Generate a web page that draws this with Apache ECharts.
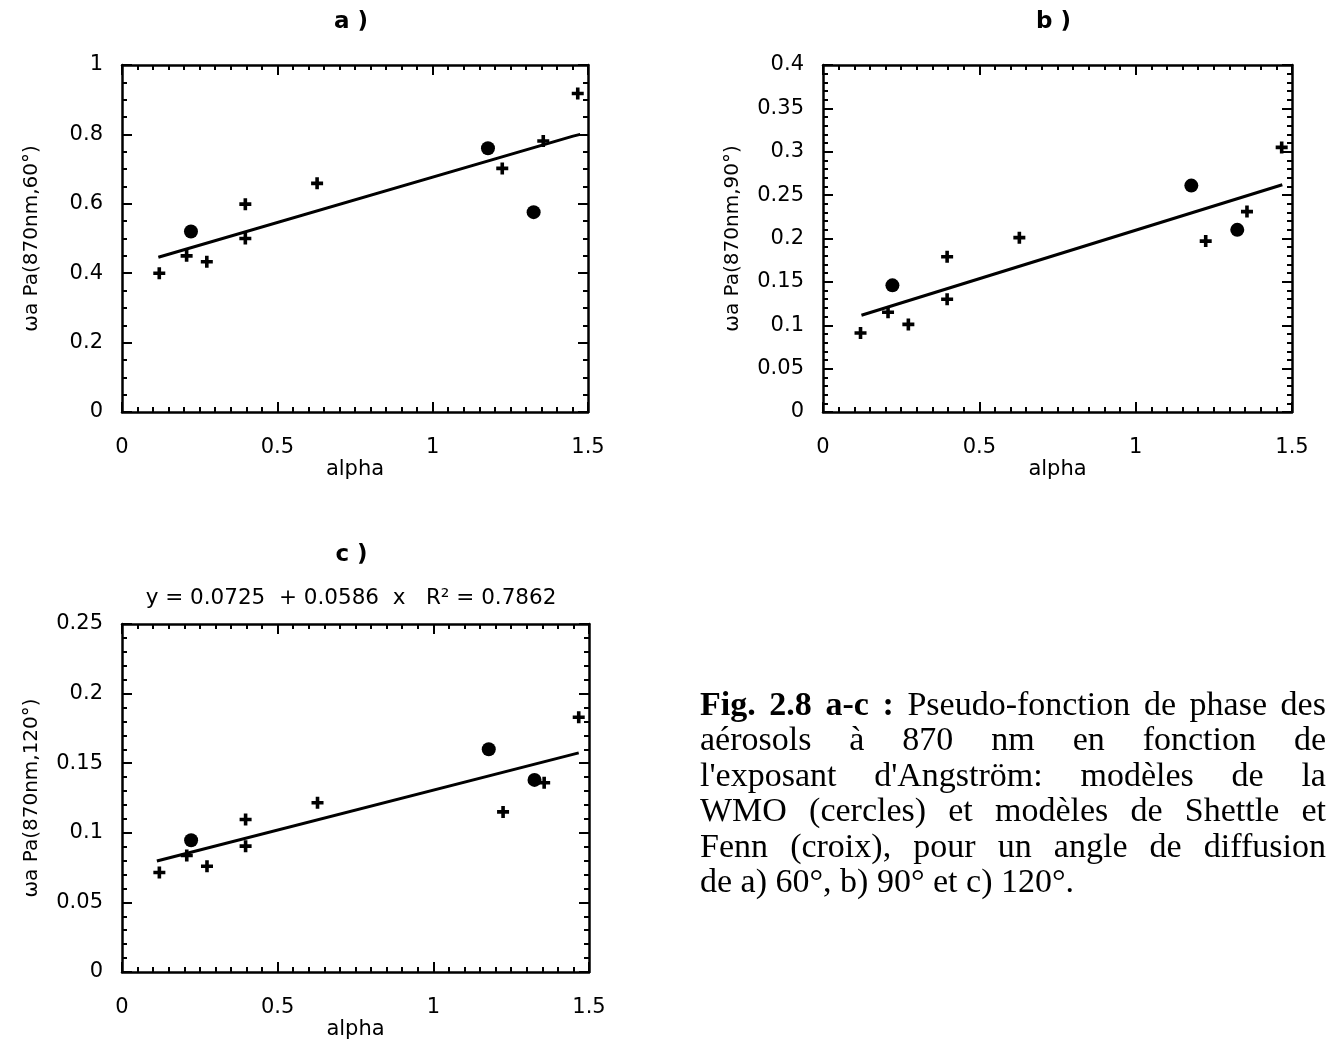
<!DOCTYPE html>
<html>
<head>
<meta charset="utf-8">
<script src="https://cdn.jsdelivr.net/npm/echarts@6/dist/echarts.min.js"></script>
<style>
  body { margin: 0; background: #fff; }
  #chart { position: absolute; left: 0; top: 0; width: 1329px; height: 1042px; }
  #caption {
    position: absolute; left: 700px; top: 686px; width: 626px;
    font-family: "Liberation Serif", serif; font-size: 34px; line-height: 35.4px; color: #000;
  }
  #caption .ln { display: flex; justify-content: space-between; white-space: nowrap; }
  #caption .last { white-space: nowrap; }
</style>
</head>
<body>
<div id="chart"></div>
<div id="caption"></div>
<script>
// alpha values (same models in every panel)
const alphaCross = [0.12, 0.208, 0.273, 0.397, 0.397, 0.628, 1.224, 1.356, 1.467];
const alphaCircle = [0.222, 1.178, 1.325];

// a) 60°
const crossA = [0.40, 0.45, 0.433, 0.599, 0.50, 0.659, 0.702, 0.781, 0.918];
const circleA = [0.52, 0.76, 0.576];
const fitA = [[0.117, 0.446], [1.452, 0.795], [1.475, 0.80]];

// b) 90°
const crossB = [0.091, 0.115, 0.101, 0.179, 0.130, 0.201, 0.197, 0.231, 0.305];
const circleB = [0.146, 0.261, 0.21];
const fitB = [[0.123, 0.1115], [1.469, 0.262]];

// c) 120°
const crossC = [0.0715, 0.0837, 0.076, 0.1096, 0.0904, 0.1216, 0.115, 0.136, 0.183];
const circleC = [0.0947, 0.160, 0.138];
const fitC = [[0.112, 0.0797], [1.467, 0.1574]];

const xTicks = [0, 1.5, 0.5];          // min, max, interval
const yTicksA = [0, 1, 0.2, 4];        // min, max, interval, minor split
const yTicksB = [0, 0.4, 0.05, 5];
const yTicksC = [0, 0.25, 0.05, 5];

const captionLines = [
  "Pseudo-fonction de phase des",
  "aérosols à 870 nm en fonction de",
  "l'exposant d'Angström: modèles de la",
  "WMO (cercles) et modèles de Shettle et",
  "Fenn (croix), pour un angle de diffusion",
  "de a) 60°, b) 90° et c) 120°."
];
const captionBold = "Fig. 2.8 a-c :";

const panels = [
  { title: "a )", yName: "ωa Pa(870nm,60°)", y: yTicksA, cross: crossA, circle: circleA, fit: fitA,
    grid: { left: 122, top: 65, width: 466, height: 347 }, xGap: 46 },
  { title: "b )", yName: "ωa Pa(870nm,90°)", y: yTicksB, cross: crossB, circle: circleB, fit: fitB,
    grid: { left: 823, top: 65, width: 469, height: 347 }, xGap: 46 },
  { title: "c )", yName: "ωa Pa(870nm,120°)", y: yTicksC, cross: crossC, circle: circleC, fit: fitC,
    grid: { left: 122, top: 624, width: 467, height: 348 }, xGap: 43 }
];

const font = "DejaVu Sans";
const crossSymbol = "path://M3.5,0H6.5V3.5H10V6.5H6.5V10H3.5V6.5H0V3.5H3.5Z";
const frame = { show: true, onZero: false, lineStyle: { color: "#000", width: 2.5 } };
const majorTick = { show: true, inside: true, length: 10, lineStyle: { color: "#000", width: 2 } };
const minorTick = (n) => ({ show: true, splitNumber: n, length: 5, lineStyle: { color: "#000", width: 2 } });

const zip = (xs, ys) => xs.map((x, i) => [x, ys[i]]);

let grids = [], xAxes = [], yAxes = [], series = [], graphics = [];

panels.forEach((p, i) => {
  grids.push(p.grid);
  const xBase = {
    type: "value", gridIndex: i, min: xTicks[0], max: xTicks[1], interval: xTicks[2],
    axisLine: frame, axisTick: majorTick, minorTick: minorTick(10), splitLine: { show: false }
  };
  xAxes.push(Object.assign({}, xBase, {
    position: "bottom", name: "alpha", nameLocation: "middle", nameGap: p.xGap,
    nameTextStyle: { fontFamily: font, fontSize: 21, color: "#000" },
    axisLabel: { fontFamily: font, fontSize: 21, color: "#000", margin: 25, showMinLabel: true, showMaxLabel: true }
  }));
  xAxes.push(Object.assign({}, xBase, { position: "top", axisLabel: { show: false } }));

  const yBase = {
    type: "value", gridIndex: i, min: p.y[0], max: p.y[1], interval: p.y[2],
    axisLine: frame, axisTick: majorTick, minorTick: minorTick(p.y[3]), splitLine: { show: false }
  };
  yAxes.push(Object.assign({}, yBase, {
    position: "left", name: p.yName, nameLocation: "middle", nameGap: 80, nameRotate: 90,
    nameTextStyle: { fontFamily: font, fontSize: 20, color: "#000" },
    axisLabel: { fontFamily: font, fontSize: 21, color: "#000", margin: 19, showMinLabel: true, showMaxLabel: true }
  }));
  yAxes.push(Object.assign({}, yBase, { position: "right", axisLabel: { show: false } }));

  series.push({
    type: "line", xAxisIndex: 2 * i, yAxisIndex: 2 * i, data: p.fit, symbol: "none",
    lineStyle: { color: "#000", width: 3 }, silent: true, z: 2
  });
  series.push({
    type: "scatter", xAxisIndex: 2 * i, yAxisIndex: 2 * i, data: zip(alphaCross, p.cross),
    symbol: crossSymbol, symbolSize: 12, itemStyle: { color: "#000", opacity: 1 }, z: 3
  });
  series.push({
    type: "scatter", xAxisIndex: 2 * i, yAxisIndex: 2 * i, data: zip(alphaCircle, p.circle),
    symbol: "circle", symbolSize: 14, itemStyle: { color: "#000", opacity: 1 }, z: 3
  });

  graphics.push({
    type: "text", x: p.grid.left + p.grid.width / 2 - 4, y: i < 2 ? 22 : 555,
    style: { text: p.title, font: "bold 23px " + font, fill: "#000", align: "center", verticalAlign: "middle" }
  });
});

graphics.push({
  type: "text", x: 351, y: 598,
  style: { text: "y = 0.0725  + 0.0586  x   R² = 0.7862", font: "21.5px " + font, fill: "#000",
           align: "center", verticalAlign: "middle" }
});

const chart = echarts.init(document.getElementById("chart"));
chart.setOption({
  backgroundColor: "#fff",
  animation: false,
  grid: grids,
  xAxis: xAxes,
  yAxis: yAxes,
  series: series,
  graphic: graphics
});

// caption text
const cap = document.getElementById("caption");
captionLines.forEach((line, i) => {
  const div = document.createElement("div");
  if (i === captionLines.length - 1) {
    div.className = "last";
    div.textContent = line;
  } else {
    div.className = "ln";
    let words = line.split(" ");
    let html = "";
    if (i === 0) {
      captionBold.split(" ").forEach(w => { html += "<span><b>" + w + "</b></span>"; });
    }
    words.forEach(w => { html += "<span>" + w + "</span>"; });
    div.innerHTML = html;
  }
  cap.appendChild(div);
});
</script>
</body>
</html>
